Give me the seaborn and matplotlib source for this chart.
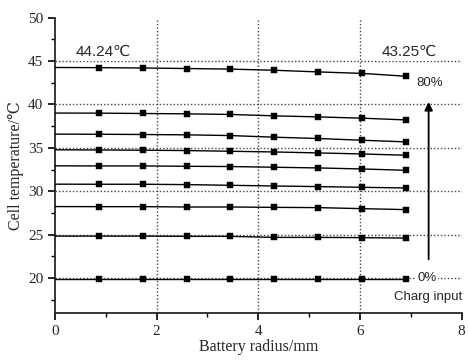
import matplotlib
matplotlib.use("Agg")
import matplotlib.pyplot as plt
import seaborn as sns
import pandas as pd

radius = [0.0, 0.86, 1.73, 2.60, 3.45, 4.31, 5.17, 6.04, 6.90]
charge = ["0%", "10%", "20%", "30%", "40%", "50%", "60%", "70%", "80%"]
t0 = [19.93, 19.93, 19.93, 19.93, 19.93, 19.93, 19.93, 19.93, 19.93]
t10 = [24.84, 24.84, 24.84, 24.81, 24.81, 24.69, 24.69, 24.66, 24.61]
t20 = [28.24, 28.23, 28.23, 28.19, 28.19, 28.15, 28.12, 28.00, 27.89]
t30 = [30.82, 30.81, 30.81, 30.77, 30.69, 30.61, 30.54, 30.46, 30.38]
t40 = [32.93, 32.92, 32.92, 32.88, 32.85, 32.77, 32.69, 32.57, 32.42]
t50 = [34.78, 34.76, 34.73, 34.69, 34.61, 34.53, 34.42, 34.30, 34.15]
t60 = [36.58, 36.57, 36.54, 36.50, 36.42, 36.23, 36.08, 35.88, 35.69]
t70 = [39.01, 39.00, 38.96, 38.92, 38.85, 38.69, 38.57, 38.42, 38.22]
t80 = [44.26, 44.24, 44.20, 44.14, 44.07, 43.94, 43.75, 43.58, 43.25]
series = [t0, t10, t20, t30, t40, t50, t60, t70, t80]

rows = []
for lab, vals in zip(charge, series):
    for x, y in zip(radius, vals):
        rows.append({"radius": x, "temp": y, "charge": lab})
df = pd.DataFrame(rows)
pts = df[df["radius"] > 0]

sns.set_style("ticks")
serif = ["Liberation Serif", "DejaVu Serif", "Noto Sans CJK JP"]
sans = ["Liberation Sans", "DejaVu Sans", "Noto Sans CJK JP"]
plt.rcParams["font.family"] = serif

fig = plt.figure(figsize=(4.68, 3.6), dpi=100)
ax = fig.add_axes([0.1175, 0.131, 0.869, 0.82])

sns.lineplot(data=df, x="radius", y="temp", units="charge", estimator=None,
             color="black", lw=1.0, ax=ax, zorder=3)
sns.scatterplot(data=pts, x="radius", y="temp", color="black", marker="s",
                s=22, edgecolor="black", linewidth=0.3, ax=ax, zorder=4)

ax.set_xlim(0, 8)
ax.set_ylim(16, 50)
ax.set_xticks([0, 2, 4, 6, 8])
ax.set_xticks([1, 3, 5, 7], minor=True)
ax.set_yticks([20, 25, 30, 35, 40, 45, 50])
ax.set_yticks([17.5, 22.5, 27.5, 32.5, 37.5, 42.5, 47.5], minor=True)
for g in [20, 25, 30, 35, 40, 45]:
    ax.axhline(g, color="#444444", ls=(0, (1, 1.5)), lw=1.0, zorder=1)
for g in [2, 4, 6]:
    ax.axvline(g, color="#444444", ls=(0, (1, 1.5)), lw=1.0, zorder=1)

sns.despine(ax=ax)
for s in ["left", "bottom"]:
    ax.spines[s].set_linewidth(1.3)
ax.tick_params(which="major", length=5, width=1.2, labelsize=11, direction="out", color="black")
ax.tick_params(which="minor", length=3, width=1.0, direction="out", color="black")
ax.set_xlabel("Battery radius/mm", fontsize=11.5, labelpad=1)
ax.set_ylabel("Cell temperature/℃", fontsize=11.5, labelpad=3)

bb = dict(boxstyle="square,pad=0.15", fc="white", ec="none")
ax.text(0.95, 46.07, "44.24℃", family=sans, fontsize=11, ha="center", va="center", bbox=bb, zorder=5)
ax.text(6.96, 46.07, "43.25℃", family=sans, fontsize=11, ha="center", va="center", bbox=bb, zorder=5)
ax.text(7.38, 42.5, "80%", family=sans, fontsize=9.5, ha="center", va="center", zorder=5)
ax.text(7.32, 20.0, "0%", family=sans, fontsize=9.5, ha="center", va="center",
        bbox=dict(boxstyle="square,pad=0.1", fc="white", ec="none"), zorder=5)
ax.text(7.34, 17.8, "Charg input", family=sans, fontsize=9.5, ha="center", va="center", zorder=5)
ax.annotate("", xy=(7.35, 40.6), xytext=(7.35, 21.85),
            arrowprops=dict(arrowstyle="-|>", color="black", lw=1.3, mutation_scale=12), zorder=5)

fig.savefig("out.png", dpi=100)
